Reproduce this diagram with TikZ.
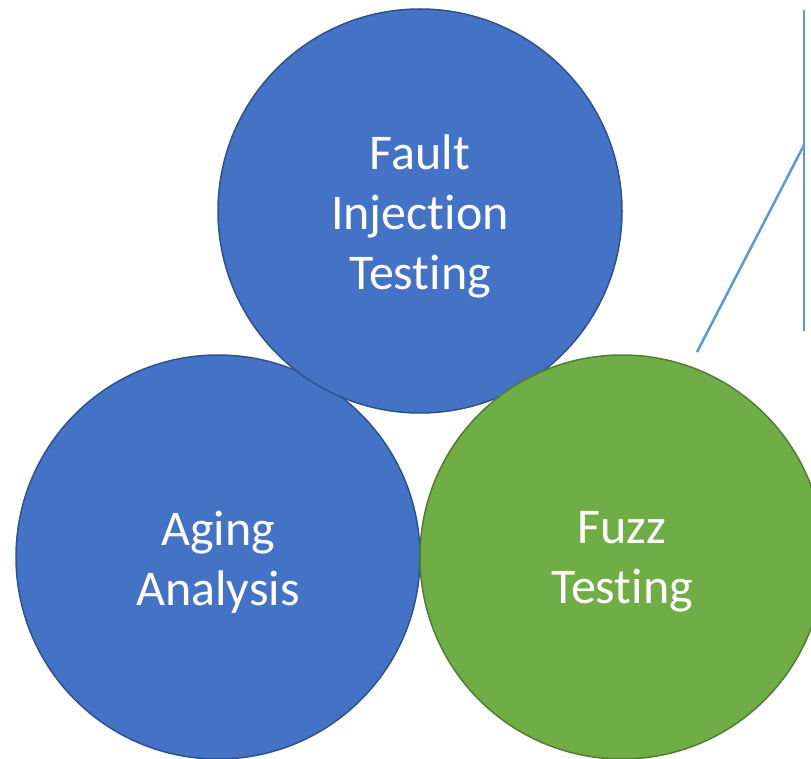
\documentclass[tikz,border=0pt]{standalone}
\usepackage{fontspec}
\setmainfont[Ligatures=NoCommon]{Carlito}
\definecolor{bluefill}{HTML}{4472C4}
\definecolor{blueedge}{HTML}{2F528F}
\definecolor{greenfill}{HTML}{70AD47}
\definecolor{greenedge}{HTML}{507E32}
\definecolor{callout}{HTML}{5B9BD5}
\begin{document}
\begin{tikzpicture}[x=1pt,y=-1pt,
  bubble/.style={circle, minimum size=404pt, inner sep=0pt, line width=1.5pt},
  bubbletext/.style={text=white, align=center, inner sep=0pt, yshift=-5pt,
    font=\fontsize{50}{60}\selectfont},
  bluebubble/.style={bubble, fill=bluefill, draw=blueedge},
  greenbubble/.style={bubble, fill=greenfill, draw=greenedge},
  calloutline/.style={draw=callout, line width=2.5pt}]
\useasboundingbox (0,0) rectangle (811,759);
\clip (0,0) rectangle (811,759);
\node[bluebubble, label={[bubbletext]center:Aging\\Analysis}] (aging) at (218,557) {};
\node[bluebubble, label={[bubbletext]center:Fault\\Injection\\Testing}] (fault) at (420,211) {};
\node[greenbubble, label={[bubbletext]center:Fuzz\\Testing}] (fuzz) at (622,557) {};
\coordinate (vtop) at (804,10);
\coordinate (vbot) at (804,331);
\coordinate (vmid) at (804,145);
\coordinate (tip) at (697,352);
\draw[calloutline] (vtop) -- (vbot);
\draw[calloutline] (vmid) -- (tip);
\end{tikzpicture}
\end{document}
